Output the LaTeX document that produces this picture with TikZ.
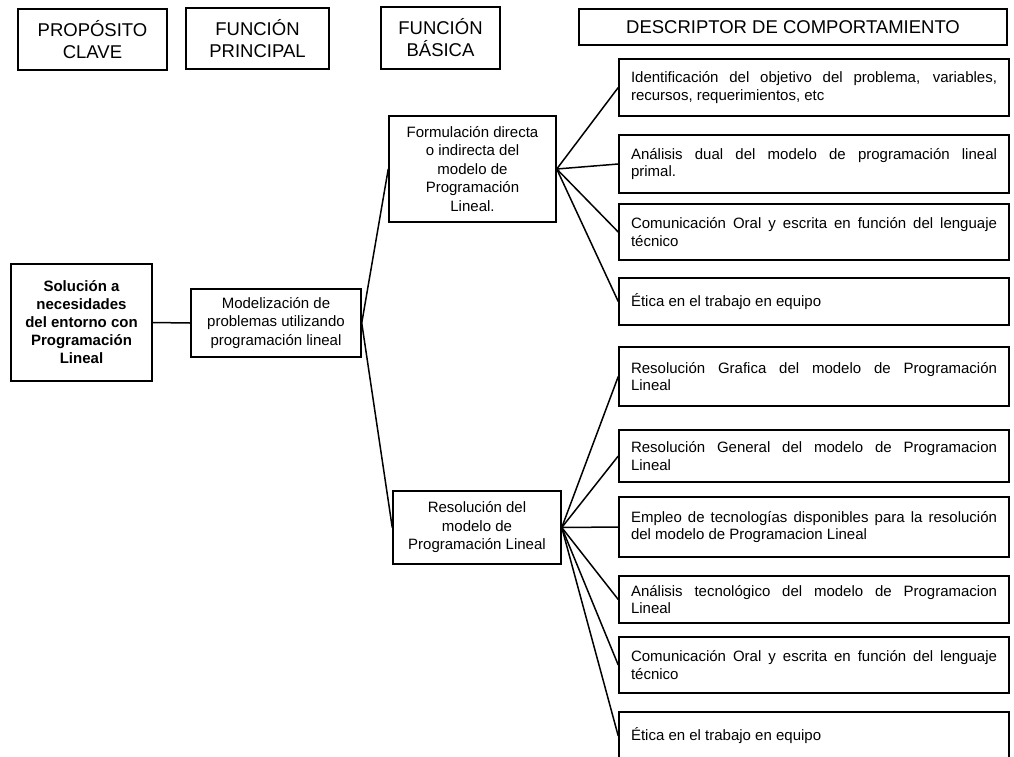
\documentclass[tikz,border=0pt]{standalone}
\usepackage{fontspec}
\setmainfont{Liberation Sans}
\begin{document}
\begin{tikzpicture}[x=1pt,y=-1pt,
  box/.style={draw, line width=1.5pt, inner sep=0pt, align=center},
  head/.style={box, font=\fontsize{18.5}{22}\selectfont},
  mid/.style={box, font=\fontsize{15}{18.5}\selectfont},
  desc/.style={box, minimum width=390pt, text width=366pt, align=justify,
    font=\fontsize{15}{17.5}\selectfont},
  link/.style={line width=1.5pt}]
\useasboundingbox (0,0) rectangle (1014,756);
\fill[white] (0,0) rectangle (1014,756);
% headers
\node[head, minimum width=149pt, minimum height=61pt] (h1) at (92.5,39.5) {PROPÓSITO\\CLAVE};
\node[head, minimum width=143pt, minimum height=61pt] (h2) at (257.5,38.5) {FUNCIÓN\\PRINCIPAL};
\node[head, minimum width=119pt, minimum height=62pt] (h3) at (440.5,38) {FUNCIÓN\\BÁSICA};
\node[head, minimum width=428pt, minimum height=36pt] (h4) at (793,27) {DESCRIPTOR DE COMPORTAMIENTO};
% left nodes
\node[mid, font=\fontsize{15}{18}\selectfont\bfseries, minimum width=141pt, minimum height=117pt] (sol) at (81.5,322.5)
  {Solución a\\necesidades\\del entorno con\\Programación\\Lineal};
\node[mid, minimum width=170pt, minimum height=68pt] (mod) at (276,323)
  {Modelización de\\problemas utilizando\\programación lineal};
\node[mid, minimum width=167pt, minimum height=106pt] (form) at (472.5,169)
  {Formulación directa\\o indirecta del\\modelo de\\Programación\\Lineal.};
\node[mid, minimum width=168pt, minimum height=73pt] (res) at (477,527.5)
  {Resolución del\\modelo de\\Programación Lineal};
% descriptors
\node[desc, minimum height=57pt] (d1) at (814,87.5)
  {Identificación del objetivo del problema, variables,\linebreak recursos, requerimientos, etc};
\node[desc, minimum height=58pt] (d2) at (814,164)
  {Análisis dual del modelo de programación lineal\linebreak primal.};
\node[desc, minimum height=56pt] (d3) at (814,232)
  {Comunicación Oral y escrita en función del lenguaje\linebreak técnico};
\node[desc, minimum height=47pt] (d4) at (814,301.5)
  {Ética en el trabajo en equipo};
\node[desc, minimum height=59pt] (d5) at (814,376.5)
  {Resolución Grafica del modelo de Programación\linebreak Lineal};
\node[desc, minimum height=52pt] (d6) at (814,456)
  {Resolución General del modelo de Programacion\linebreak Lineal};
\node[desc, minimum height=60pt] (d7) at (814,527)
  {Empleo de tecnologías disponibles para la resolución\linebreak del modelo de Programacion Lineal};
\node[desc, minimum height=47pt] (d8) at (814,599.5)
  {Análisis tecnológico del modelo de Programacion\linebreak Lineal};
\node[desc, minimum height=56pt] (d9) at (814,665)
  {Comunicación Oral y escrita en función del lenguaje\linebreak técnico};
\node[desc, minimum height=48pt] (d10) at (814,736)
  {Ética en el trabajo en equipo};
% connectors
\draw[link] (sol.east) -- (mod.west);
\draw[link] (mod.east) -- (form.west);
\draw[link] (mod.east) -- (res.west);
\foreach \d in {d1,d2,d3,d4} \draw[link] (form.east) -- (\d.west);
\foreach \d in {d5,d6,d7,d8,d9,d10} \draw[link] (res.east) -- (\d.west);
\end{tikzpicture}
\end{document}
